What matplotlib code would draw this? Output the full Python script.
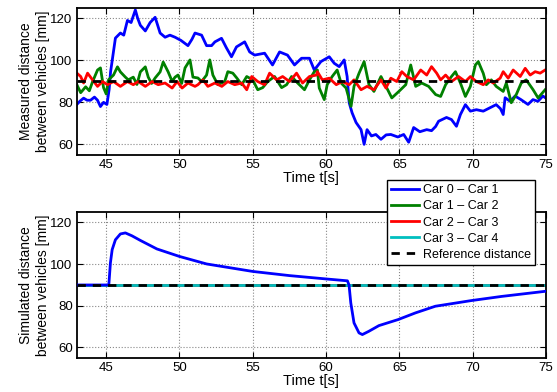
import matplotlib
matplotlib.use("Agg")
import matplotlib.pyplot as plt

plt.rcParams["font.family"] = ["Liberation Sans", "DejaVu Sans"]
plt.rcParams["font.size"] = 9.5

# measured spacing between consecutive cars [mm]
t_meas_01 = [43.0, 43.2, 43.46, 43.7, 43.93, 44.2, 44.41, 44.61, 44.82, 45.05, 45.2, 45.3,
             45.63, 45.97, 46.2, 46.45, 46.7, 46.99, 47.15, 47.33, 47.67, 48.0, 48.34, 48.5,
             48.68, 49.02, 49.35, 49.7, 50.1, 50.58, 50.85, 51.06, 51.51, 51.85, 52.19, 52.42,
             52.87, 53.2, 53.55, 53.89, 54.45, 54.79, 55.13, 55.81, 56.35, 56.83, 57.37, 57.85,
             58.33, 58.87, 59.2, 59.65, 60.22, 60.56, 60.9, 61.24, 61.44, 61.58, 61.78, 62.05,
             62.39, 62.6, 62.8, 63.1, 63.4, 63.75, 64.1, 64.42, 64.9, 65.3, 65.64, 65.98,
             66.4, 66.87, 67.2, 67.48, 67.68, 68.22, 68.56, 68.9, 69.17, 69.51, 69.85, 70.26,
             70.73, 71.21, 71.61, 71.9, 72.09, 72.22, 72.56, 72.9, 73.3, 73.78, 74.12, 74.46,
             74.8, 75.0]
d_meas_01 = [79, 80.5, 82, 81, 81, 82.5, 81, 78, 80, 79, 86, 94.5,
             110.6, 113, 112, 119, 118, 124, 120, 116.7, 114, 118, 120.5, 117,
             113, 111, 112, 111, 109.5, 107, 110, 113, 112, 107, 107, 108.8,
             110.5, 106, 101.7, 106.4, 108.8, 104, 102.5, 103.4, 97.8, 104, 102.5, 97.8,
             101, 101, 95.4, 99.4, 101.7, 98.6, 97, 100.2, 92.3, 79.8, 75, 70.4,
             67, 60, 67, 64, 64.7, 62.4, 64.5, 64.7, 63.5, 64.7, 61, 68,
             66, 67, 66.5, 68.5, 71, 72.8, 71.8, 68.6, 74.2, 78.9, 75.8, 76.5,
             75.8, 77.5, 78.9, 77, 74.2, 82.2, 80.5, 83, 81.3, 79, 81.3, 80.5,
             83, 82]

t_meas_12 = [43.0, 43.26, 43.6, 43.85, 44.07, 44.41, 44.61, 44.82, 45.0, 45.16, 45.5, 45.77,
             45.97, 46.31, 46.51, 46.85, 47.1, 47.33, 47.67, 47.87, 48.1, 48.34, 48.68, 48.89,
             49.23, 49.5, 49.7, 49.9, 50.15, 50.38, 50.72, 50.92, 51.26, 51.51, 51.85, 52.07,
             52.28, 52.62, 53.09, 53.3, 53.64, 53.91, 54.25, 54.59, 55.0, 55.34, 55.68, 56.02,
             56.49, 56.97, 57.31, 57.65, 58.05, 58.53, 58.87, 59.2, 59.41, 59.54, 59.88, 60.08,
             60.42, 60.76, 61.03, 61.37, 61.71, 61.91, 62.25, 62.6, 62.93, 63.27, 63.75, 64.15,
             64.49, 64.97, 65.44, 65.78, 66.12, 66.53, 67.0, 67.48, 67.82, 68.16, 68.56, 68.83,
             69.17, 69.51, 69.85, 70.19, 70.39, 70.73, 70.94, 71.28, 71.61, 72.09, 72.3, 72.64,
             72.98, 73.32, 73.66, 74.13, 74.47, 74.95]
d_meas_12 = [88.4, 84.6, 87.4, 85.5, 89.8, 95.4, 96.4, 87, 84, 90.7, 93, 96.9,
             94.5, 92, 90.7, 92, 88.5, 94.5, 96.9, 92, 89, 91.6, 94.5, 99.2,
             94.5, 90, 92, 93, 89, 96.4, 100.2, 92, 91.6, 89.9, 93, 100.2,
             93, 88.4, 89.9, 94.6, 93.9, 91.6, 88.4, 92.3, 90.7, 86, 87, 89.9,
             92.3, 87, 88.4, 92.3, 89.3, 86, 90.7, 94.6, 95.4, 86.8, 81.3, 88.4,
             92.3, 95.4, 89.2, 86.8, 78.1, 87.6, 93.8, 99.4, 88.4, 85.2, 92.3, 86.8,
             82.1, 85.2, 88.4, 97.8, 87.6, 89.2, 87.6, 83.7, 82.8, 88.4, 92.3, 94.6,
             89.2, 82.8, 87.6, 97.8, 99.4, 93.8, 88.4, 90.7, 87.6, 85.2, 89.2, 79.8,
             83.7, 89.2, 90.7, 86, 82.1, 86]

t_meas_23 = [43.0, 43.26, 43.46, 43.73, 44.07, 44.41, 44.75, 45.09, 45.5, 45.97, 46.45, 46.85,
             47.19, 47.67, 48.14, 48.55, 49.02, 49.5, 49.84, 50.18, 50.58, 51.06, 51.26, 51.6,
             51.94, 52.42, 52.89, 53.3, 53.77, 54.25, 54.59, 54.93, 55.34, 55.81, 56.15, 56.63,
             57.04, 57.51, 57.99, 58.4, 58.87, 59.35, 59.41, 59.75, 60.22, 60.7, 61.1, 61.58,
             61.91, 62.39, 62.8, 63.27, 63.75, 64.09, 64.42, 64.83, 65.17, 65.51, 65.98, 66.46,
             66.87, 67.2, 67.55, 67.82, 68.16, 68.56, 69.04, 69.51, 69.85, 70.26, 70.73, 71.07,
             71.41, 71.88, 72.09, 72.43, 72.77, 73.25, 73.59, 73.93, 74.27, 74.61, 74.95]
d_meas_23 = [93.9, 92.3, 89.2, 93.9, 90.7, 87.6, 89.9, 88.4, 89.9, 87.6, 89.9, 88.4,
             89.9, 87.6, 89.9, 88.4, 89.2, 86.8, 89.9, 86.8, 89.2, 87.6, 88.4, 90.7,
             87.6, 89.2, 87.6, 89.9, 88.4, 89.2, 86, 92.3, 89.9, 88.4, 93.9, 90.7,
             92.3, 89.9, 93.9, 89.2, 92.3, 93, 94.6, 90.7, 91.5, 88.4, 89.9, 88.4,
             90.7, 86, 87.6, 86, 90.7, 86.8, 91.5, 89.9, 94.6, 92.3, 90.7, 95.4,
             93, 97, 93.9, 90.7, 93, 89.9, 92.3, 89.9, 92.3, 89.9, 88.4, 90.7,
             89.2, 91.5, 94.6, 91.5, 95.4, 92.3, 96.2, 93, 94.6, 93.9, 95.4]

# simulated spacing [mm]
t_sim_01 = [43.0, 45.18, 45.29, 45.41, 45.63, 45.97, 46.31, 46.76, 47.33, 48.46, 50.0, 51.85,
            55.0, 57.51, 60.0, 61.46, 61.57, 61.69, 61.91, 62.25, 62.48, 62.93, 63.61, 64.92,
            66.1, 67.46, 69.9, 71.97, 75.0]
d_sim_01 = [90, 90, 100.7, 107, 111.7, 114.5, 115, 113.6, 111.4, 107.3, 103.7, 100.1,
            96.5, 94.5, 92.9, 92.0, 90, 81.4, 71.8, 67, 66.2, 67.8, 70.5, 73.4,
            76.6, 79.8, 82.5, 84.5, 87.0]
t_sim_flat = [43.0, 75.0]
d_sim_12 = [90, 90]
d_sim_23 = [90, 90]
d_sim_34 = [90, 90]

t_ref = [43.0, 75.0]
d_ref = [90, 90]

labels = ["Car 0 \u2013 Car 1", "Car 1 \u2013 Car 2", "Car 2 \u2013 Car 3",
          "Car 3 \u2013 Car 4", "Reference distance"]
colors = ["#0000ff", "#008000", "#ff0000", "#00bfbf"]
xticks = [45, 50, 55, 60, 65, 70, 75]
yticks = [60, 80, 100, 120]

fig = plt.figure(figsize=(5.57, 3.92), dpi=100)
ax1 = fig.add_axes([0.138, 0.605, 0.842, 0.375])
ax2 = fig.add_axes([0.138, 0.087, 0.842, 0.372])

lw = 2.0
ax1.plot(t_meas_01, d_meas_01, color=colors[0], lw=lw)
ax1.plot(t_meas_12, d_meas_12, color=colors[1], lw=lw)
ax1.plot(t_meas_23, d_meas_23, color=colors[2], lw=lw)
ax1.plot(t_ref, d_ref, "k--", lw=lw, dashes=(3, 2.5))

ax2.plot(t_sim_01, d_sim_01, color=colors[0], lw=lw, label=labels[0], zorder=4)
ax2.plot(t_sim_flat, d_sim_12, color=colors[1], lw=lw, label=labels[1])
ax2.plot(t_sim_flat, d_sim_23, color=colors[2], lw=lw, label=labels[2])
ax2.plot(t_sim_flat, d_sim_34, color=colors[3], lw=lw, label=labels[3])
ax2.plot(t_ref, d_ref, "k--", lw=lw, dashes=(3, 2.5), label=labels[4], zorder=5)

for ax, ylab in [(ax1, "Measured distance\nbetween vehicles [mm]"),
                 (ax2, "Simulated distance\nbetween vehicles [mm]")]:
    ax.set_xlim(43, 75)
    ax.set_ylim(55, 125)
    ax.set_xticks(xticks)
    ax.set_yticks(yticks)
    ax.grid(True, linestyle=":", color="#888888", lw=0.8)
    ax.tick_params(direction="in", top=True, right=True, length=4, width=0.8, pad=3)
    for s in ax.spines.values():
        s.set_linewidth(1.3)
    ax.set_ylabel(ylab, labelpad=0, fontsize=10, linespacing=1.35)
    ax.set_xlabel("Time t[s]", labelpad=0, fontsize=10.5)

handles, labs = ax2.get_legend_handles_labels()
leg = fig.legend(handles, labs, loc="upper left", bbox_to_anchor=(0.695, 0.541),
                 bbox_transform=fig.transFigure, borderaxespad=0, fancybox=False,
                 framealpha=1, edgecolor="black", handlelength=2.2, labelspacing=0.33,
                 handletextpad=0.3, borderpad=0.35, fontsize=9)
leg.get_frame().set_linewidth(1.0)

fig.savefig("out.png", dpi=100)
